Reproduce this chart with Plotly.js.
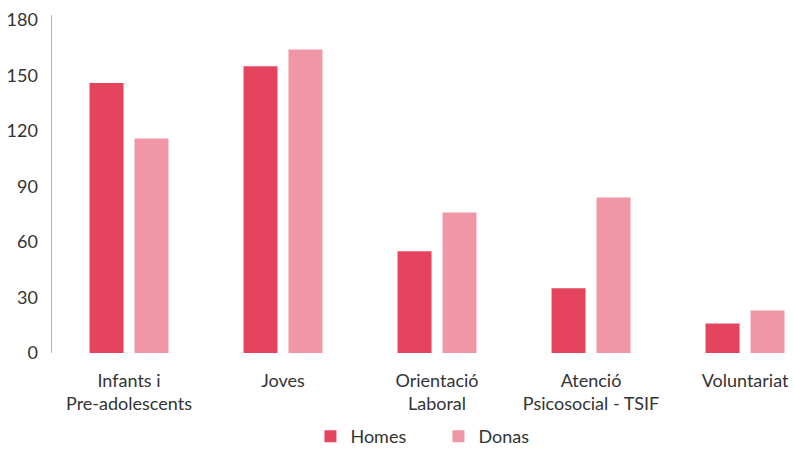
<!DOCTYPE html>
<html><head><meta charset="utf-8">
<script src="https://cdn.plot.ly/plotly-3.0.1.min.js"></script>
<style>html,body{margin:0;padding:0;background:#fff}#chart{width:794px;height:450px}</style>
</head><body><div id="chart"></div>
<script>
var categories = ["Infants i<br>Pre-adolescents", "Joves", "Orientació<br>Laboral", "Atenció<br>Psicosocial - TSIF", "Voluntariat"];
var homes = [146, 155, 55, 35, 16];
var donas = [116, 164, 76, 84, 23];
var yTicks = [0, 30, 60, 90, 120, 150, 180];

var font = {family: "Lato, 'Open Sans', sans-serif", size: 18, color: "#333"};
var data = [
  {type: "bar", name: "Homes", x: [0,1,2,3,4], y: homes, marker: {color: "#E5445F"}, hoverinfo: "y"},
  {type: "bar", name: "Donas", x: [0,1,2,3,4], y: donas, marker: {color: "#F096A6"}, hoverinfo: "y"}
];
var layout = {
  width: 794, height: 450,
  margin: {l: 52, r: 0, t: 15, b: 97},
  paper_bgcolor: "#fff", plot_bgcolor: "#fff",
  font: font,
  barmode: "group", bargap: 0.416, bargroupgap: 0.244,
  showlegend: true,
  legend: {orientation: "h", xref: "container", yref: "container", x: 0.391, xanchor: "left", y: 0.03, yanchor: "middle",
           font: font, itemwidth: 30, entrywidth: 83, entrywidthmode: "pixels", tracegroupgap: 0},
  xaxis: {
    range: [-0.5, 4.318], tickmode: "array", tickvals: [0,1,2,3,4], ticktext: categories,
    showgrid: false, zeroline: false, showline: false, ticks: "outside", ticklen: 11, tickcolor: "rgba(0,0,0,0)",
    tickfont: font, fixedrange: true
  },
  yaxis: {
    range: [0, 182.7], tickmode: "array", tickvals: yTicks, ticktext: yTicks.map(String),
    showgrid: false, zeroline: false, showline: true, linecolor: "#b5b5b5", linewidth: 1.5,
    ticks: "outside", ticklen: 9, tickcolor: "rgba(0,0,0,0)", tickfont: font, fixedrange: true
  }
};
Plotly.newPlot("chart", data, layout, {displayModeBar: false, staticPlot: true});
</script></body></html>
